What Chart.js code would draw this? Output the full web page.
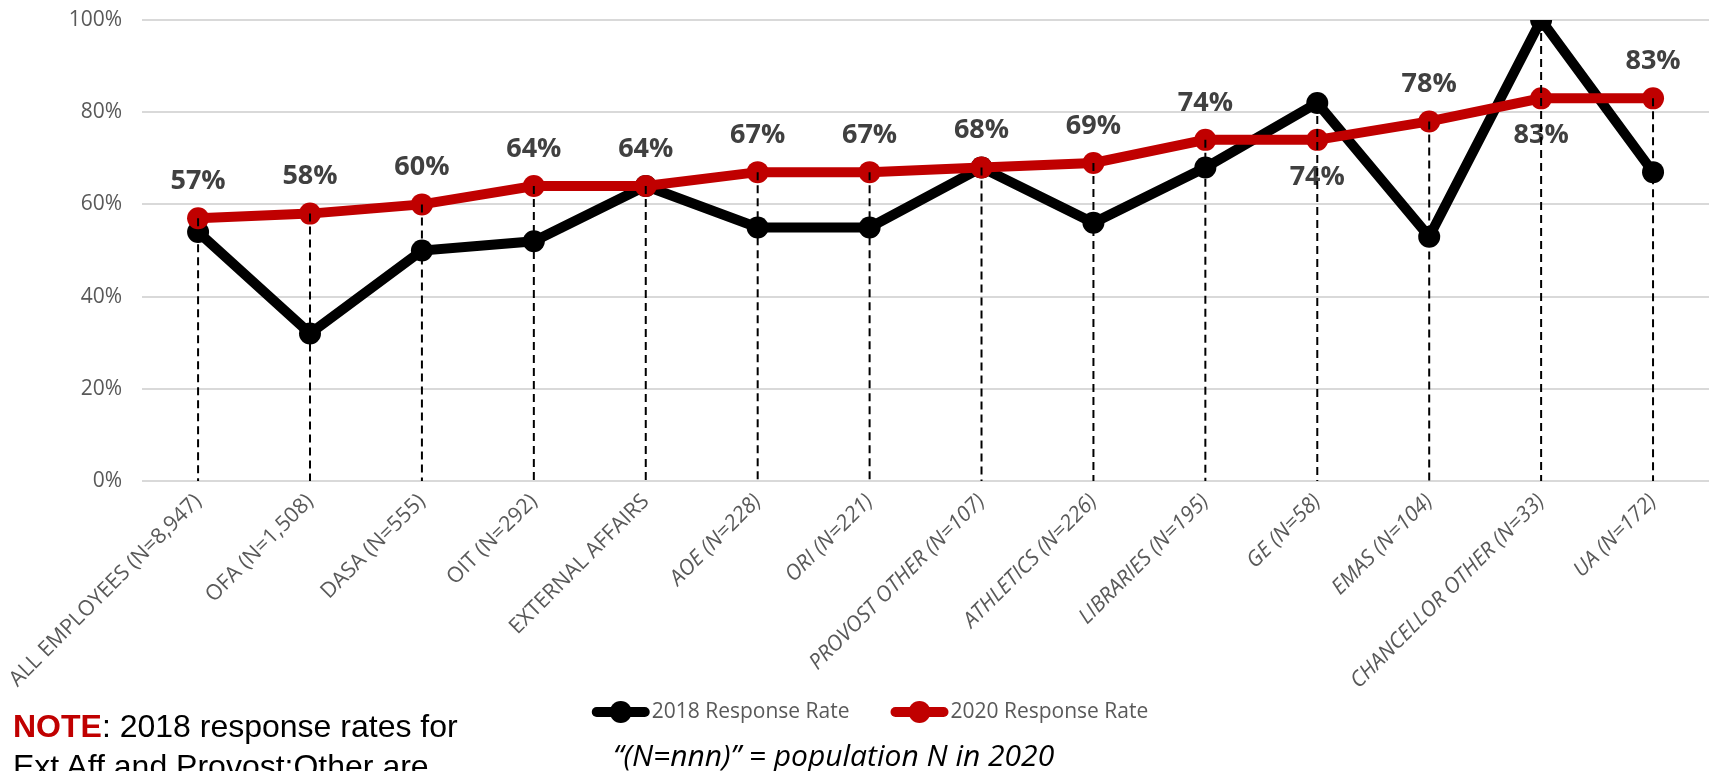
<!DOCTYPE html>
<html>
<head>
<meta charset="utf-8">
<title>Response Rates 2018 vs 2020</title>
<script src="https://cdn.jsdelivr.net/npm/chart.js@4.4.1/dist/chart.umd.min.js"></script>
<style>
    body { margin: 0; background: #fff; overflow: hidden; }
    #wrap { position: relative; width: 1710px; height: 771px; }
    #note {
        position: absolute; left: 13px; top: 706px;
        font-family: "Liberation Sans", Arial, sans-serif;
        font-size: 32px; line-height: 40px; color: #000; white-space: nowrap;
    }
    #note b { color: #C00000; }
    #popNote {
        position: absolute; left: 613px; top: 734px;
        font-family: "Open Sans", sans-serif; font-style: italic;
        font-size: 30px; color: #000; white-space: nowrap;
    }
</style>
</head>
<body>
<div id="wrap">
    <canvas id="chart" width="1710" height="771"></canvas>
    <div id="note"><b>NOTE</b>: 2018 response rates for<br>Ext Aff and Provost:Other are</div>
    <div id="popNote">“(N=nnn)” = population N in 2020</div>
</div>
<script>
// Chart data
const categories = [
    "ALL EMPLOYEES (N=8,947)", "OFA (N=1,508)", "DASA (N=555)", "OIT (N=292)",
    "EXTERNAL AFFAIRS", "AOE (N=228)", "ORI (N=221)", "PROVOST OTHER (N=107)",
    "ATHLETICS (N=226)", "LIBRARIES (N=195)", "GE (N=58)", "EMAS (N=104)",
    "CHANCELLOR OTHER (N=33)", "UA (N=172)"
];
const rate2018 = [54, 32, 50, 52, 64, 55, 55, 68, 56, 68, 82, 53, 100, 67];
const rate2020 = [57, 58, 60, 64, 64, 67, 67, 68, 69, 74, 74, 78, 83, 83];
const yTicks = [0, 20, 40, 60, 80, 100];

const GREY = "#595959";

// 2020 value labels above the points (a few sit below)
const valueLabels = {
    id: "valueLabels",
    afterDatasetsDraw(chart, args, opts) {
        const ctx = chart.ctx;
        const meta = chart.getDatasetMeta(1);
        ctx.save();
        ctx.font = 'bold 27px "Open Sans"';
        ctx.fillStyle = "#404040";
        ctx.textAlign = "center";
        ctx.textBaseline = "middle";
        meta.data.forEach((pt, i) => {
            const dy = opts.below.includes(i) ? opts.offset : -opts.offset;
            ctx.fillText(rate2020[i] + "%", pt.x, pt.y + dy);
        });
        ctx.restore();
    }
};

// dashed drop lines from the highest point down to the axis
const dropLines = {
    id: "dropLines",
    afterDatasetsDraw(chart) {
        const ctx = chart.ctx;
        const base = chart.scales.y.getPixelForValue(0);
        const metas = chart.data.datasets.map((d, i) => chart.getDatasetMeta(i));
        ctx.save();
        ctx.strokeStyle = "#000";
        ctx.lineWidth = 2;
        ctx.setLineDash([8, 5]);
        categories.forEach((c, i) => {
            const top = Math.min(...metas.map(m => m.data[i].y));
            const x = metas[0].data[i].x;
            ctx.beginPath();
            ctx.moveTo(x, top);
            ctx.lineTo(x, base);
            ctx.stroke();
        });
        ctx.restore();
    }
};

// legend drawn by hand so it can sit in the label area like the original
const lineLegend = {
    id: "lineLegend",
    afterDraw(chart, args, opts) {
        const ctx = chart.ctx;
        ctx.save();
        ctx.font = opts.font;
        const items = chart.data.datasets.map(ds => ({
            text: ds.label,
            color: ds.borderColor,
            w: opts.markerWidth + 2 + ctx.measureText(ds.label).width
        }));
        const total = items.reduce((s, it) => s + it.w, 0) + opts.gap * (items.length - 1);
        let x = opts.centerX - total / 2;
        items.forEach(it => {
            ctx.strokeStyle = it.color;
            ctx.lineWidth = 10;
            ctx.lineCap = "round";
            ctx.beginPath();
            ctx.moveTo(x + 5, opts.y);
            ctx.lineTo(x + opts.markerWidth - 5, opts.y);
            ctx.stroke();
            ctx.fillStyle = it.color;
            ctx.beginPath();
            ctx.arc(x + opts.markerWidth / 2, opts.y, 11, 0, Math.PI * 2);
            ctx.fill();
            ctx.fillStyle = GREY;
            ctx.textAlign = "left";
            ctx.textBaseline = "middle";
            ctx.fillText(it.text, x + opts.markerWidth + 2, opts.y);
            x += it.w + opts.gap;
        });
        ctx.restore();
    }
};

const chart = new Chart(document.getElementById("chart"), {
    type: "line",
    data: {
        labels: categories,
        datasets: [
            {
                label: "2018 Response Rate",
                data: rate2018,
                borderColor: "#000000",
                backgroundColor: "#000000",
                borderWidth: 10,
                pointRadius: 11,
                pointBorderWidth: 0,
                pointBackgroundColor: "#000000",
                tension: 0,
                order: 2
            },
            {
                label: "2020 Response Rate",
                data: rate2020,
                borderColor: "#C00000",
                backgroundColor: "#C00000",
                borderWidth: 10,
                pointRadius: 11,
                pointBorderWidth: 0,
                pointBackgroundColor: "#C00000",
                tension: 0,
                order: 1
            }
        ]
    },
    options: {
        responsive: false,
        animation: false,
        layout: { autoPadding: false, padding: { left: 0, top: 20, right: 1, bottom: 0 } },
        plugins: {
            legend: { display: false },
            tooltip: { enabled: false },
            valueLabels: { below: [10, 12], offset: 37 },
            lineLegend: { font: '21px "Open Sans"', y: 712, centerX: 870, markerWidth: 58, gap: 41 }
        },
        scales: {
            x: {
                offset: true,
                grid: { display: false, drawTicks: false },
                border: { display: false },
                ticks: {
                    minRotation: 45,
                    maxRotation: 45,
                    padding: 8,
                    color: GREY,
                    font: ctx => ({ family: "Open Sans", size: 21.4, style: ctx.index >= 5 ? "italic" : "normal" })
                },
                afterFit: s => { s.height = 290; s.paddingRight = 0; }
            },
            y: {
                min: 0,
                max: 100,
                afterBuildTicks: s => { s.ticks = yTicks.map(v => ({ value: v })); },
                grid: { color: "#D9D9D9", lineWidth: 2, drawTicks: false },
                border: { display: false },
                ticks: {
                    padding: 20,
                    color: GREY,
                    font: { family: "Open Sans", size: 21 },
                    callback: v => v + "%"
                },
                afterFit: s => { s.width = 142; s.paddingTop = 0; s.paddingBottom = 0; }
            }
        }
    },
    plugins: [valueLabels, dropLines, lineLegend]
});
</script>
</body>
</html>
